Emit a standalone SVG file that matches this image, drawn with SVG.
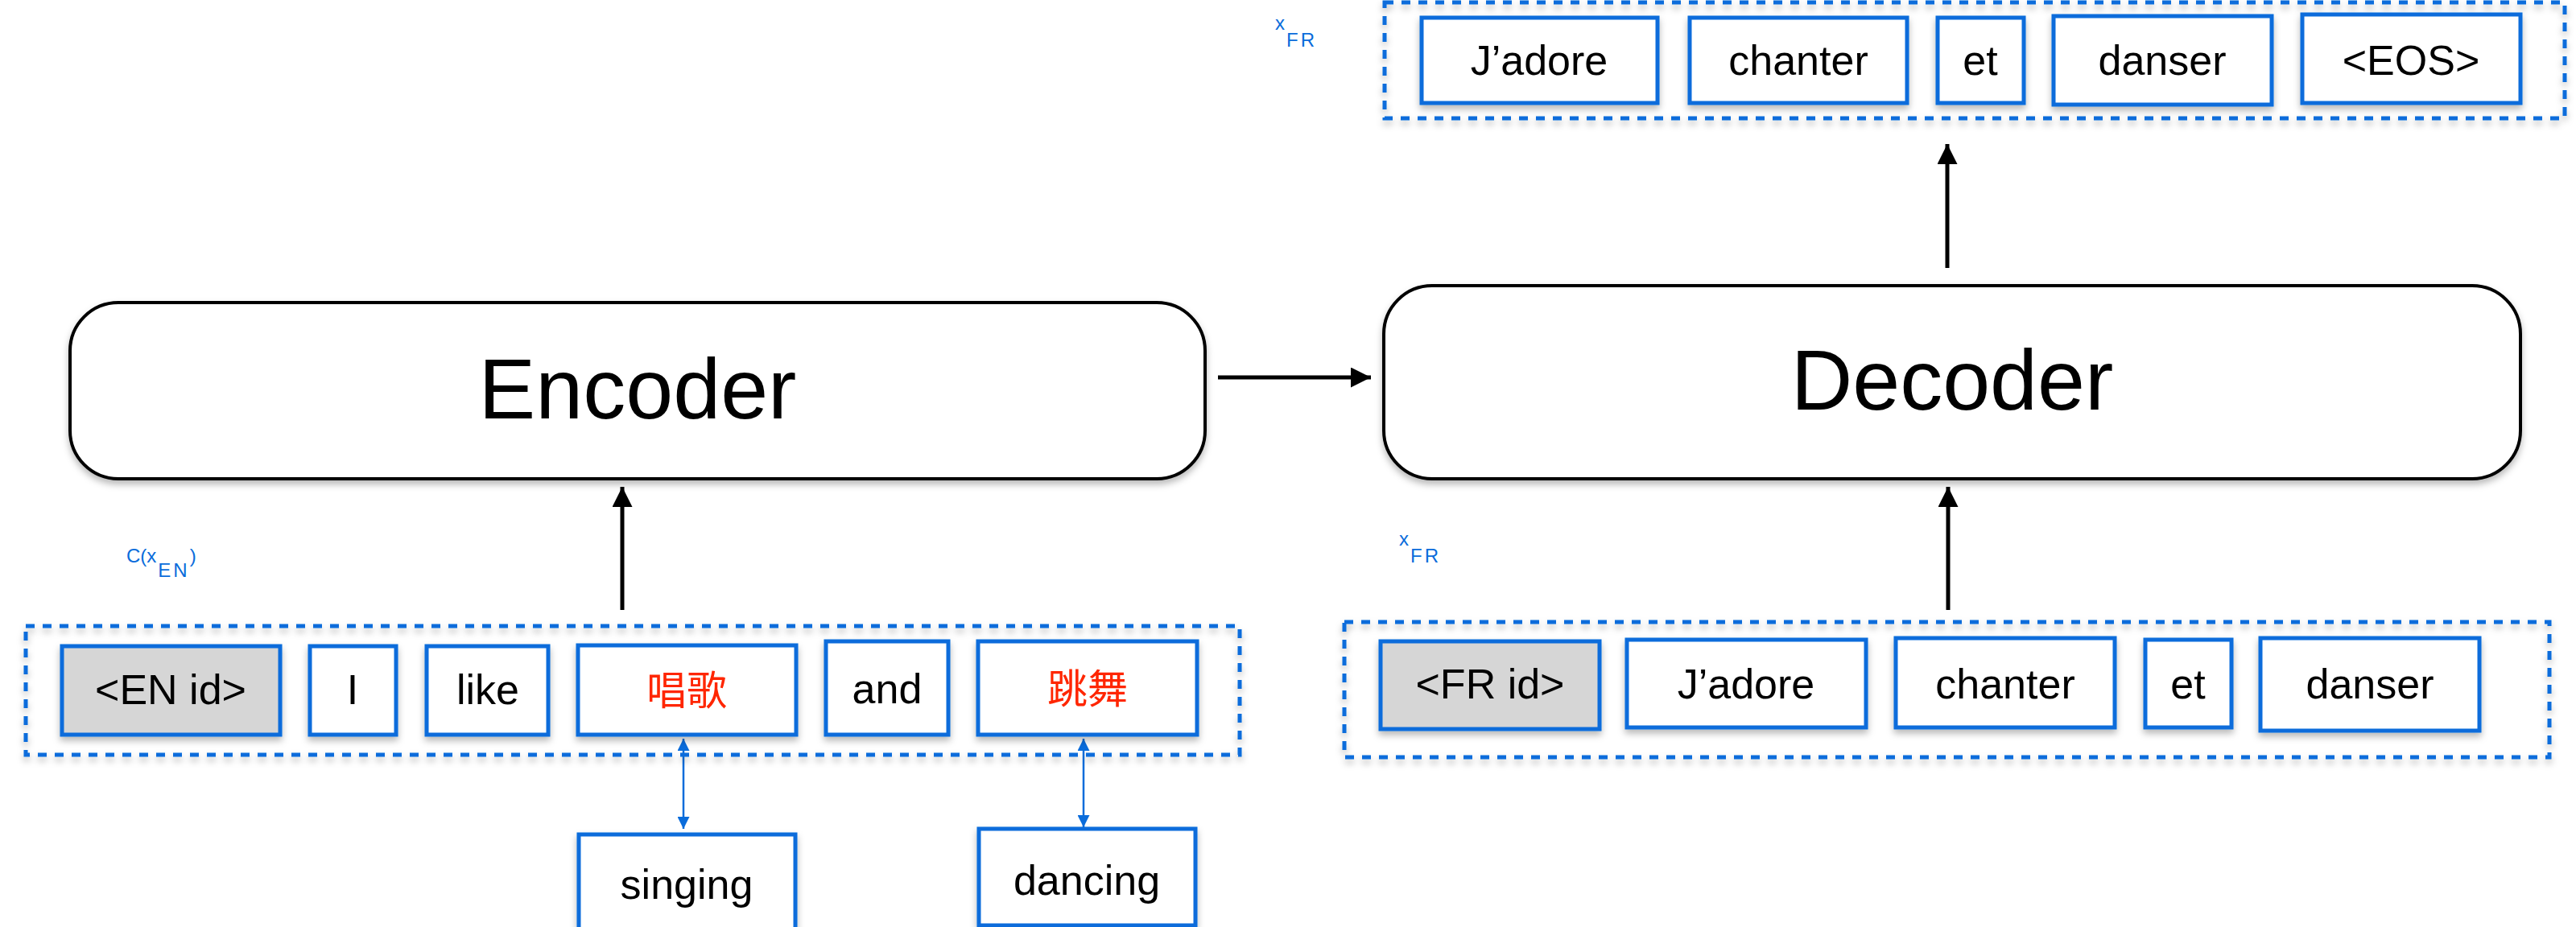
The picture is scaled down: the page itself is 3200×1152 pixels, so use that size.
<svg xmlns="http://www.w3.org/2000/svg" width="3200" height="1152" viewBox="0 0 3200 1152">
  <defs>
    <filter id="shadow" x="-10%" y="-20%" width="120%" height="150%">
      <feDropShadow dx="0" dy="5" stdDeviation="4" flood-color="#000" flood-opacity="0.28"/>
    </filter>
    <marker id="headBlack" viewBox="0 0 10 10" refX="10" refY="5" markerWidth="5" markerHeight="5" markerUnits="strokeWidth" orient="auto">
      <path d="M0,0 L10,5 L0,10 Z" fill="#000"/>
    </marker>
    <marker id="headBlue" viewBox="0 0 10 10" refX="10" refY="5" markerWidth="6" markerHeight="6" markerUnits="strokeWidth" orient="auto-start-reverse">
      <path d="M0,0 L10,5 L0,10 Z" fill="#0a6cdb"/>
    </marker>
  </defs>
  <style>
    .tok { fill: #fff; stroke: #0a6cdb; stroke-width: 5; filter: url(#shadow); }
    .tok.id { fill: #d6d6d6; }
    .seq { fill: none; stroke: #0a6cdb; stroke-width: 5; stroke-dasharray: 11 10; filter: url(#shadow); }
    .block { fill: #fff; stroke: #000; stroke-width: 4; filter: url(#shadow); }
    .txt { font-family: "Liberation Sans", Arial, sans-serif; font-size: 52px; fill: #000; text-anchor: middle; }
    .zh { font-family: "Liberation Sans", "Noto Sans CJK SC", sans-serif; font-size: 50px; fill: #ff2600; text-anchor: middle; }
    .big { font-family: "Liberation Sans", Arial, sans-serif; font-size: 106px; fill: #000; text-anchor: middle; }
    .lbl { font-family: "Liberation Sans", Arial, sans-serif; font-size: 24px; fill: #0a6cdb; }
    .arrow { stroke: #000; stroke-width: 5; fill: none; marker-end: url(#headBlack); }
    .link { stroke: #0a6cdb; stroke-width: 2.5; fill: none; marker-start: url(#headBlue); marker-end: url(#headBlue); }
  </style>

  <!-- connectors -->
  <g id="connectors">
    <line class="arrow" x1="773" y1="758" x2="773" y2="605"/>
    <line class="arrow" x1="1513" y1="469" x2="1703" y2="469"/>
    <line class="arrow" x1="2420" y1="758" x2="2420" y2="605"/>
    <line class="arrow" x1="2419" y1="333" x2="2419" y2="179"/>
    <line class="link" x1="849" y1="918" x2="849" y2="1030"/>
    <line class="link" x1="1346" y1="918" x2="1346" y2="1028"/>
  </g>

  <!-- encoder / decoder blocks -->
  <g id="encoder">
    <rect class="block" x="87" y="376" width="1410" height="219" rx="60" ry="60"/>
    <text class="big" x="792" y="520">Encoder</text>
  </g>
  <g id="decoder">
    <rect class="block" x="1719" y="355" width="1412" height="240" rx="60" ry="60"/>
    <text class="big" x="2425" y="509">Decoder</text>
  </g>

  <!-- source sequence -->
  <g id="source-seq">
    <rect class="seq" x="32" y="778" width="1508" height="160"/>
    <text class="lbl" x="157" y="699">C(x<tspan dx="2" dy="18" letter-spacing="3">EN</tspan><tspan dy="-18">)</tspan></text>
  </g>
  <g id="src-en-id">
    <rect class="tok id" x="77" y="803" width="271" height="110"/>
    <text class="txt" x="212" y="875">&lt;EN id&gt;</text>
  </g>
  <g id="src-i">
    <rect class="tok" x="385" y="803" width="107" height="110"/>
    <text class="txt" x="438" y="875">I</text>
  </g>
  <g id="src-like">
    <rect class="tok" x="530" y="803" width="151" height="110"/>
    <text class="txt" x="606" y="875">like</text>
  </g>
  <g id="src-changge">
    <rect class="tok" x="718" y="802" width="271" height="111"/>
    <text class="zh" x="853" y="876">唱歌</text>
  </g>
  <g id="src-and">
    <rect class="tok" x="1026" y="797" width="152" height="116"/>
    <text class="txt" x="1102" y="874">and</text>
  </g>
  <g id="src-tiaowu">
    <rect class="tok" x="1215" y="797" width="272" height="116"/>
    <text class="zh" x="1351" y="874">跳舞</text>
  </g>

  <!-- dictionary lookups -->
  <g id="singing">
    <rect class="tok" x="719" y="1037" width="269" height="140"/>
    <text class="txt" x="853" y="1117">singing</text>
  </g>
  <g id="dancing">
    <rect class="tok" x="1216" y="1030" width="269" height="120"/>
    <text class="txt" x="1350" y="1112">dancing</text>
  </g>

  <!-- decoder input sequence -->
  <g id="target-in-seq">
    <rect class="seq" x="1670" y="773" width="1497" height="168"/>
    <text class="lbl" x="1738" y="678">x<tspan dx="2" dy="21" letter-spacing="3">FR</tspan></text>
  </g>
  <g id="in-fr-id">
    <rect class="tok id" x="1715" y="797" width="272" height="109"/>
    <text class="txt" x="1851" y="868">&lt;FR id&gt;</text>
  </g>
  <g id="in-jadore">
    <rect class="tok" x="2021" y="795" width="297" height="109"/>
    <text class="txt" x="2169" y="868">J’adore</text>
  </g>
  <g id="in-chanter">
    <rect class="tok" x="2355" y="793" width="272" height="111"/>
    <text class="txt" x="2491" y="868">chanter</text>
  </g>
  <g id="in-et">
    <rect class="tok" x="2665" y="795" width="107" height="109"/>
    <text class="txt" x="2718" y="868">et</text>
  </g>
  <g id="in-danser">
    <rect class="tok" x="2808" y="793" width="272" height="115"/>
    <text class="txt" x="2944" y="868">danser</text>
  </g>

  <!-- decoder output sequence -->
  <g id="target-out-seq">
    <rect class="seq" x="1720" y="3" width="1466" height="144"/>
    <text class="lbl" x="1584" y="37">x<tspan dx="2" dy="21" letter-spacing="3">FR</tspan></text>
  </g>
  <g id="out-jadore">
    <rect class="tok" x="1766" y="22" width="293" height="106"/>
    <text class="txt" x="1912" y="93">J’adore</text>
  </g>
  <g id="out-chanter">
    <rect class="tok" x="2099" y="22" width="270" height="106"/>
    <text class="txt" x="2234" y="93">chanter</text>
  </g>
  <g id="out-et">
    <rect class="tok" x="2407" y="22" width="107" height="106"/>
    <text class="txt" x="2460" y="93">et</text>
  </g>
  <g id="out-danser">
    <rect class="tok" x="2551" y="20" width="271" height="110"/>
    <text class="txt" x="2686" y="93">danser</text>
  </g>
  <g id="out-eos">
    <rect class="tok" x="2860" y="18" width="271" height="110"/>
    <text class="txt" x="2995" y="93">&lt;EOS&gt;</text>
  </g>
</svg>
